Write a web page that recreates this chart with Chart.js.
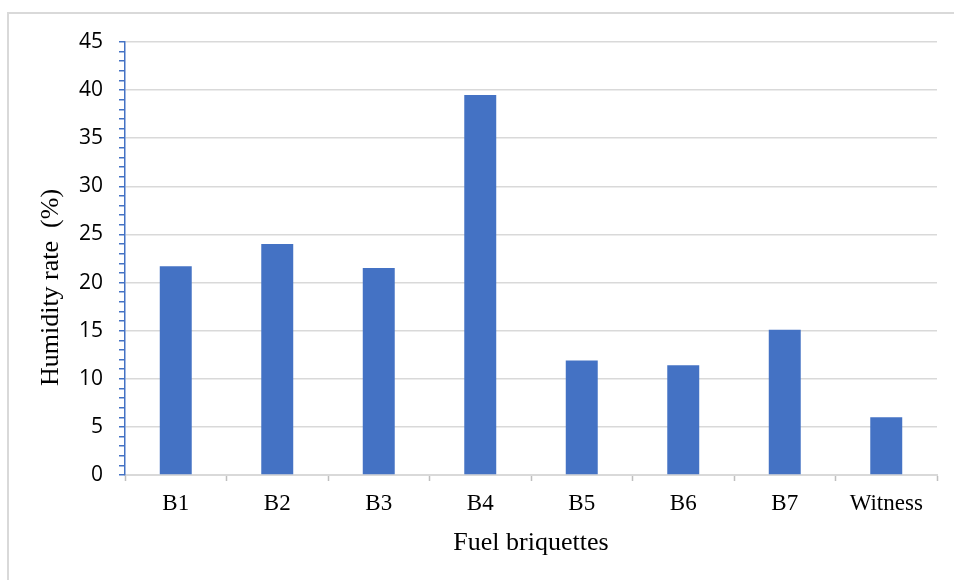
<!DOCTYPE html>
<html>
<head>
<meta charset="utf-8">
<script src="https://cdn.jsdelivr.net/npm/chart.js@4"></script>
<style>
  html, body { margin: 0; padding: 0; background: #fff; overflow: hidden; }
  #frame { position: absolute; left: 7px; top: 12px; width: 980px; height: 620px; border: 2px solid #d9d9d9; }
  #wrap { position: absolute; left: 0; top: 0; width: 954px; height: 580px; }
</style>
</head>
<body>
<div id="frame"></div>
<div id="wrap"><canvas id="barChart" width="954" height="580"></canvas></div>
<script>
// Humidity rate per fuel briquette
const categories = ['B1', 'B2', 'B3', 'B4', 'B5', 'B6', 'B7', 'Witness'];
const humidity = [21.7, 24.0, 21.5, 39.5, 11.9, 11.4, 15.1, 6.0];
const yMax = 45;
const yMajorStep = 5;
const yTitle = 'Humidity rate  (%)';

const serif = '"Liberation Serif", "Times New Roman", serif';

// y title sits a bit below the middle of the axis in the original, so draw it by hand
const yTitlePlugin = {
    id: 'yTitle',
    afterDraw(chart) {
        const c = chart.ctx;
        const area = chart.chartArea;
        c.save();
        c.translate(51, (area.top + area.bottom) / 2 + 29);
        c.rotate(-Math.PI / 2);
        c.font = '26px ' + serif;
        c.fillStyle = '#000';
        c.textAlign = 'center';
        c.textBaseline = 'middle';
        c.fillText(yTitle, 0, 0);
        c.restore();
    }
};

const ctx = document.getElementById('barChart').getContext('2d');
const chart = new Chart(ctx, {
    type: 'bar',
    data: {
        labels: categories,
        datasets: [{
            label: 'Humidity rate (%)',
            data: humidity,
            backgroundColor: '#4472C4',
            borderWidth: 0,
            categoryPercentage: 1,
            barPercentage: 0.315
        }]
    },
    options: {
        responsive: false,
        animation: false,
        layout: { padding: { left: 35, right: 17, top: 42, bottom: 21 } },
        plugins: {
            legend: { display: false },
            tooltip: { enabled: false }
        },
        scales: {
            x: {
                grid: {
                    offset: true,
                    drawOnChartArea: false,
                    tickLength: 6,
                    tickColor: '#bfbfbf',
                    tickWidth: 1.5
                },
                border: { color: '#d9d9d9', width: 2 },
                ticks: {
                    color: '#000',
                    padding: 9,
                    font: { family: serif, size: 23 }
                },
                title: {
                    display: true,
                    text: 'Fuel briquettes',
                    color: '#000',
                    padding: 0,
                    font: { family: serif, size: 26 }
                },
                afterFit: (s) => { s.height = 580 - 475 - 21; }
            },
            y: {
                min: 0,
                max: yMax,
                grid: {
                    color: (c) => (c.tick && c.tick.value % yMajorStep === 0) ? '#d9d9d9' : 'rgba(0,0,0,0)',
                    lineWidth: 1.5,
                    tickLength: 6,
                    tickColor: '#4472C4',
                    tickWidth: 1.5
                },
                border: { color: '#4472C4', width: 1.5 },
                ticks: {
                    stepSize: 1,
                    autoSkip: false,
                    color: '#000',
                    padding: 16,
                    font: { family: '"Open Sans", sans-serif', size: 21 },
                    callback: (v) => (v % yMajorStep === 0 ? v : '')
                },
                title: { display: false },
                afterFit: (s) => { s.width = 125 - 35; }
            }
        }
    },
    plugins: [yTitlePlugin]
});
</script>
</body>
</html>
